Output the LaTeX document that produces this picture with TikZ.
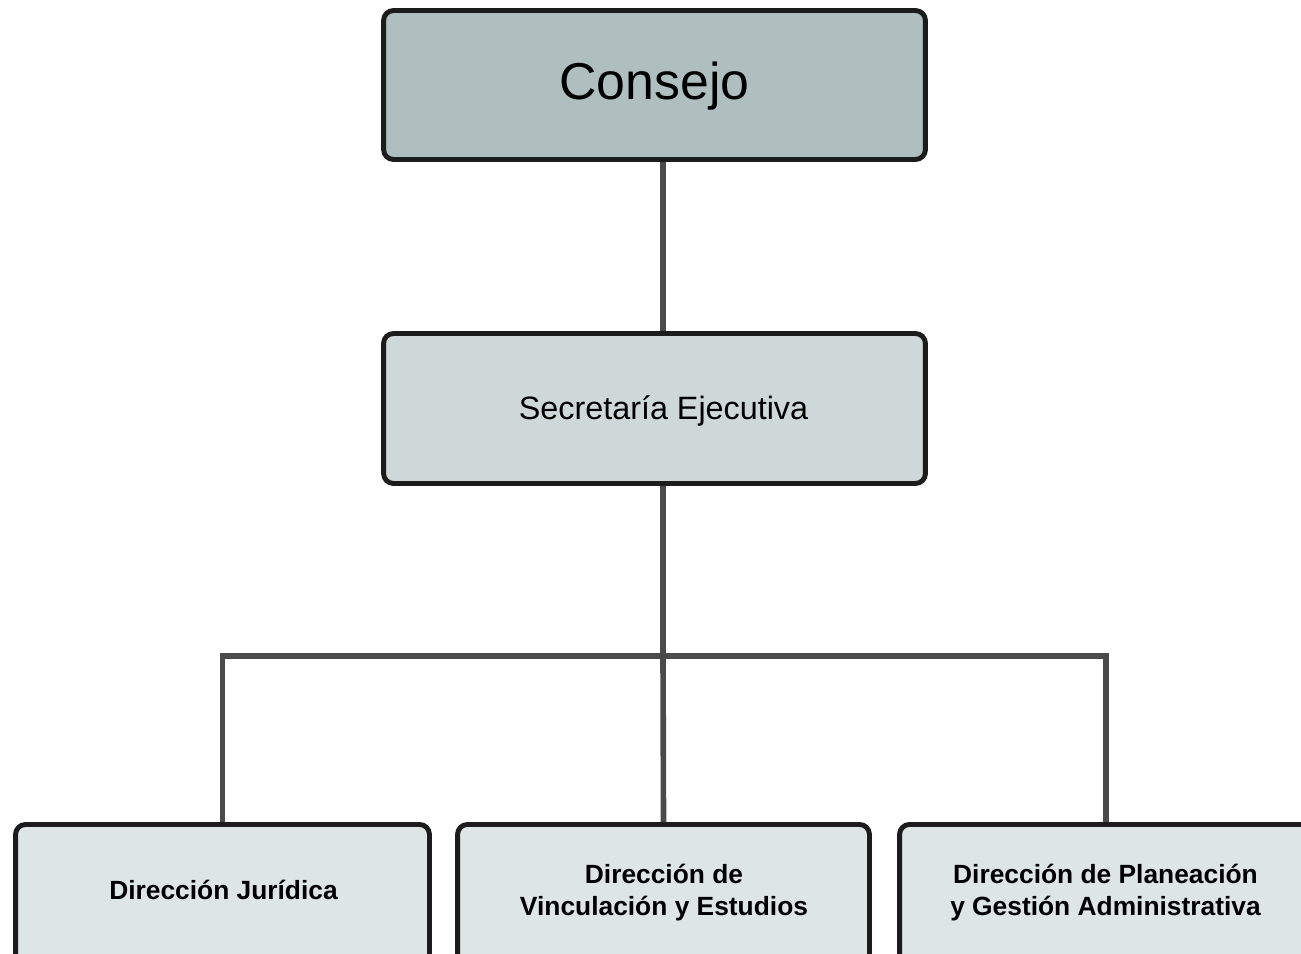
\documentclass[tikz,border=0pt]{standalone}
\usepackage{fontspec}
\setmainfont{Liberation Sans}
\definecolor{topfill}{HTML}{AFBEBE}
\definecolor{midfill}{HTML}{CED8D9}
\definecolor{lowfill}{HTML}{DDE5E5}
\definecolor{edge}{HTML}{1C1C1C}
\definecolor{wire}{HTML}{4A4A4A}
\tikzset{
  orgbox/.style={draw=edge, line width=2.8pt, rounded corners=0.2cm, inner sep=0pt},
  lowbox/.style={orgbox, fill=lowfill, anchor=north, minimum height=3.4cm},
  lowtext/.style={inner sep=0pt, align=center, font=\fontsize{15}{18.1}\selectfont\bfseries},
  wirestyle/.style={draw=wire, line width=3.2pt}
}
\begin{document}
\begin{tikzpicture}[x=0.02cm, y=-0.02cm]
\useasboundingbox (0,0) rectangle (1301,953);
\clip (0,0) rectangle (1301,953);
% top box
\node[orgbox, fill=topfill, minimum width=10.84cm, minimum height=2.98cm] (cons) at (654.5,85) {};
\node[inner sep=0pt, anchor=base, font=\fontsize{29.5}{34}\selectfont] (const) at (654.5,100) {Consejo};
% secretaria
\node[orgbox, fill=midfill, minimum width=10.84cm, minimum height=3.0cm] (sec) at (654.5,408.5) {};
\node[inner sep=0pt, anchor=base, font=\fontsize{18.4}{22}\selectfont] (sect) at (663.5,419) {Secretaría Ejecutiva};
% lower boxes
\node[lowbox, minimum width=8.28cm] (jur) at (222.5,822) {};
\node[lowtext] (jurt) at (223.5,890) {Dirección Jurídica};
\node[lowbox, minimum width=8.24cm] (vin) at (663.5,822) {};
\node[lowtext] (vint) at (664,892.5) {Dirección de\\Vinculación y Estudios};
\node[lowbox, minimum width=8.26cm] (pla) at (1106,822) {};
\node[lowtext] (plat) at (1105.5,892.5) {Dirección de Planeación\\y Gestión Administrativa};
% connectors
\coordinate (spine) at (663,0);
\coordinate (bar) at (663,656);
\draw[wirestyle] (cons.south -| spine) -- (sec.north -| spine);
\draw[wirestyle] (sec.south -| spine) -- (bar);
\draw[wirestyle] (bar) -- (vin.north);
\draw[wirestyle, line join=miter] (jur.north) |- (bar) -| (pla.north);
\end{tikzpicture}
\end{document}
